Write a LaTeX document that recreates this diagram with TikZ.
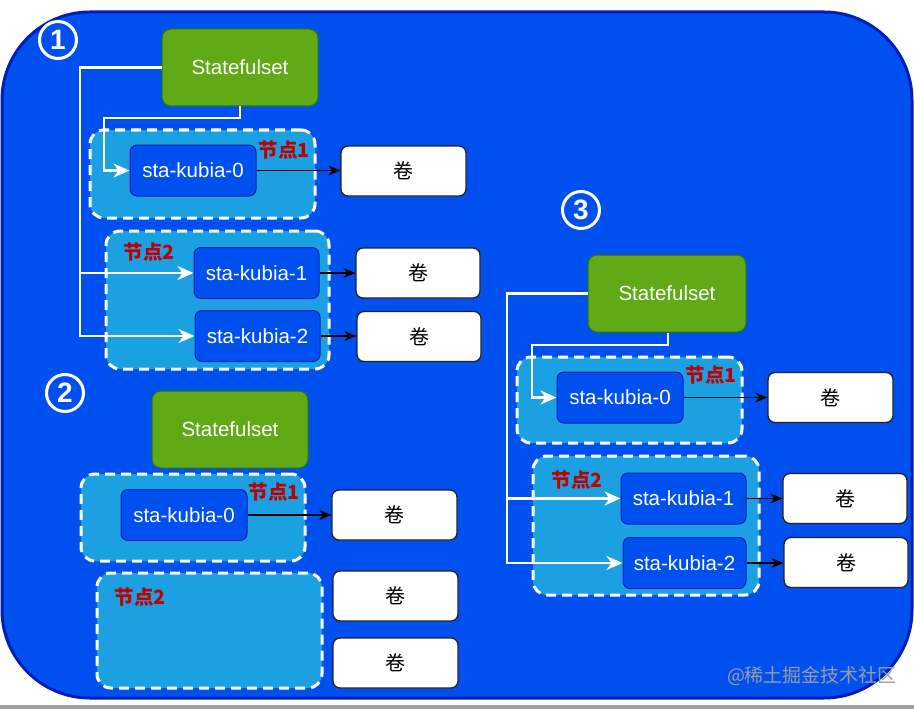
\documentclass[tikz,border=0pt]{standalone}
\usepackage{fontspec}
\setmainfont{Liberation Sans}
\newfontfamily\cjk{Noto Sans CJK SC}
\usetikzlibrary{arrows.meta}
\definecolor{bgblue}{HTML}{0050EF}
\definecolor{bgborder}{HTML}{001DBC}
\definecolor{contfill}{HTML}{1BA1E2}
\definecolor{stsfill}{HTML}{60A917}
\definecolor{stsline}{HTML}{2D7600}
\definecolor{lblred}{HTML}{C00000}
\definecolor{volline}{HTML}{222222}
\definecolor{wmgray}{HTML}{9A9CA8}
\tikzset{
  bgbox/.style={draw=bgborder, fill=bgblue, line width=3pt, rounded corners=88pt},
  cont/.style={draw=white, fill=contfill, line width=3pt, dash pattern=on 10pt off 6pt, rounded corners=14pt, inner sep=0pt},
  pod/.style={draw=bgborder, fill=bgblue, line width=1pt, rounded corners=7pt, inner sep=0pt, minimum width=126pt, minimum height=51pt, text=white, font=\fontsize{20.5}{24}\selectfont},
  sts/.style={draw=stsline, fill=stsfill, line width=1pt, rounded corners=9pt, inner sep=0pt, minimum width=156pt, minimum height=77pt, text=white, font=\fontsize{20.5}{24}\selectfont},
  vol/.style={draw=volline, fill=white, line width=1.3pt, rounded corners=7pt, inner sep=0pt, minimum width=125pt, minimum height=50pt, font=\cjk\fontsize{20}{24}\selectfont},
  redlbl/.style={text=lblred, font=\cjk\bfseries\fontsize{19.5}{22}\selectfont, inner sep=0pt},
  num/.style={circle, draw=white, line width=3pt, minimum size=37pt, inner sep=0pt, text=white, font=\bfseries\fontsize{28}{30}\selectfont},
  wline/.style={draw=white, line width=2.4pt, -{Stealth[length=16pt,width=14pt,inset=5pt]}},
  wseg/.style={draw=white, line width=2.4pt},
  bline/.style={draw=black, line width=1.3pt, -{Stealth[length=12pt,width=10pt]}},
}
\begin{document}
\begin{tikzpicture}[x=1pt,y=-1pt]
\useasboundingbox (0,0) rectangle (914,709);
\fill[white] (0,0) rectangle (914,709);
\fill[gray!75] (0,705) rectangle (914,709);
\draw[bgbox] (2,12) rectangle (912,698);

% ---------- section 1 ----------
\node[num] (c1) at (58,40) {1};
\node[cont, minimum width=225pt, minimum height=88pt] (n1a) at (202.5,174) {};
\node[cont, minimum width=223pt, minimum height=138pt] (n1b) at (217.5,300) {};
\node[sts] (s1) at (240,67.5) {Statefulset};
\node[pod] (p10) at (193,170.5) {sta-kubia-0};
\node[pod, minimum width=125pt] (p11) at (256.5,273) {sta-kubia-1};
\node[pod, minimum width=125pt] (p12) at (257.5,336) {sta-kubia-2};
\node[vol] (v10) at (403.5,171) {卷};
\node[vol, minimum width=124pt] (v11) at (418,273) {卷};
\node[vol, minimum width=124pt] (v12) at (419,336.5) {卷};
\node[redlbl] (l11) at (284,150) {节点1};
\node[redlbl] (l12) at (149,252) {节点2};
\coordinate (k1a) at (80,67.5);
\coordinate (k1b) at (80,273);
\coordinate (k1c) at (240,118);
\coordinate (k1d) at (104,118);
\draw[wseg] (s1.west) -- (k1a) -- (k1b);
\draw[wline] (k1a) |- (p12.west);
\draw[wline] (k1b) -- (p11.west);
\draw[wline] (s1.south) -- (k1c) -- (k1d) |- (p10.west);
\draw[bline] (p10.east) -- (v10.west |- p10.east);
\draw[bline] (p11.east) -- (v11.west);
\draw[bline] (p12.east) -- (v12.west |- p12.east);

% ---------- section 2 ----------
\node[num] (c2) at (65,393) {2};
\node[cont, minimum width=224pt, minimum height=87pt] (n2a) at (193,517.5) {};
\node[cont, minimum width=225pt, minimum height=115pt] (n2b) at (209.5,630.5) {};
\node[sts] (s2) at (230,429.5) {Statefulset};
\node[pod] (p20) at (184,515) {sta-kubia-0};
\node[vol] (v20) at (394.5,515) {卷};
\node[vol] (v21) at (395.5,596) {卷};
\node[vol] (v22) at (395.5,663) {卷};
\node[redlbl] (l21) at (274,492) {节点1};
\node[redlbl] (l22) at (140,597) {节点2};
\draw[bline] (p20.east) -- (v20.west);

% ---------- section 3 ----------
\node[num] (c3) at (581,210) {3};
\node[cont, minimum width=225pt, minimum height=86pt] (n3a) at (629.5,400) {};
\node[cont, minimum width=226pt, minimum height=139pt] (n3b) at (646,525.5) {};
\node[sts, minimum width=158pt] (s3) at (667,293.5) {Statefulset};
\node[pod] (p30) at (620,397.5) {sta-kubia-0};
\node[pod, minimum width=125pt] (p31) at (683.5,498.5) {sta-kubia-1};
\node[pod, minimum width=123pt] (p32) at (684.5,563) {sta-kubia-2};
\node[vol] (v30) at (830.5,397.5) {卷};
\node[vol, minimum width=124pt] (v31) at (845,498.5) {卷};
\node[vol, minimum width=124pt] (v32) at (846,562.5) {卷};
\node[redlbl] (l31) at (711,375) {节点1};
\node[redlbl] (l32) at (577,480) {节点2};
\coordinate (k3a) at (507,293.5);
\coordinate (k3b) at (507,498.5);
\coordinate (k3c) at (668,345);
\coordinate (k3d) at (532,345);
\draw[wseg] (s3.west) -- (k3a) -- (k3b);
\draw[wline] (k3a) |- (p32.west);
\draw[wline] (k3b) -- (p31.west);
\draw[wline] (s3.south -| k3c) -- (k3c) -- (k3d) |- (p30.west);
\draw[bline] (p30.east) -- (v30.west);
\draw[bline] (p31.east) -- (v31.west);
\draw[bline] (p32.east) -- (v32.west |- p32.east);

% watermark
\node[text=wmgray, font=\cjk\fontsize{19}{21}\selectfont, inner sep=0pt] (wm) at (812,676) {@稀土掘金技术社区};
\end{tikzpicture}
\end{document}
